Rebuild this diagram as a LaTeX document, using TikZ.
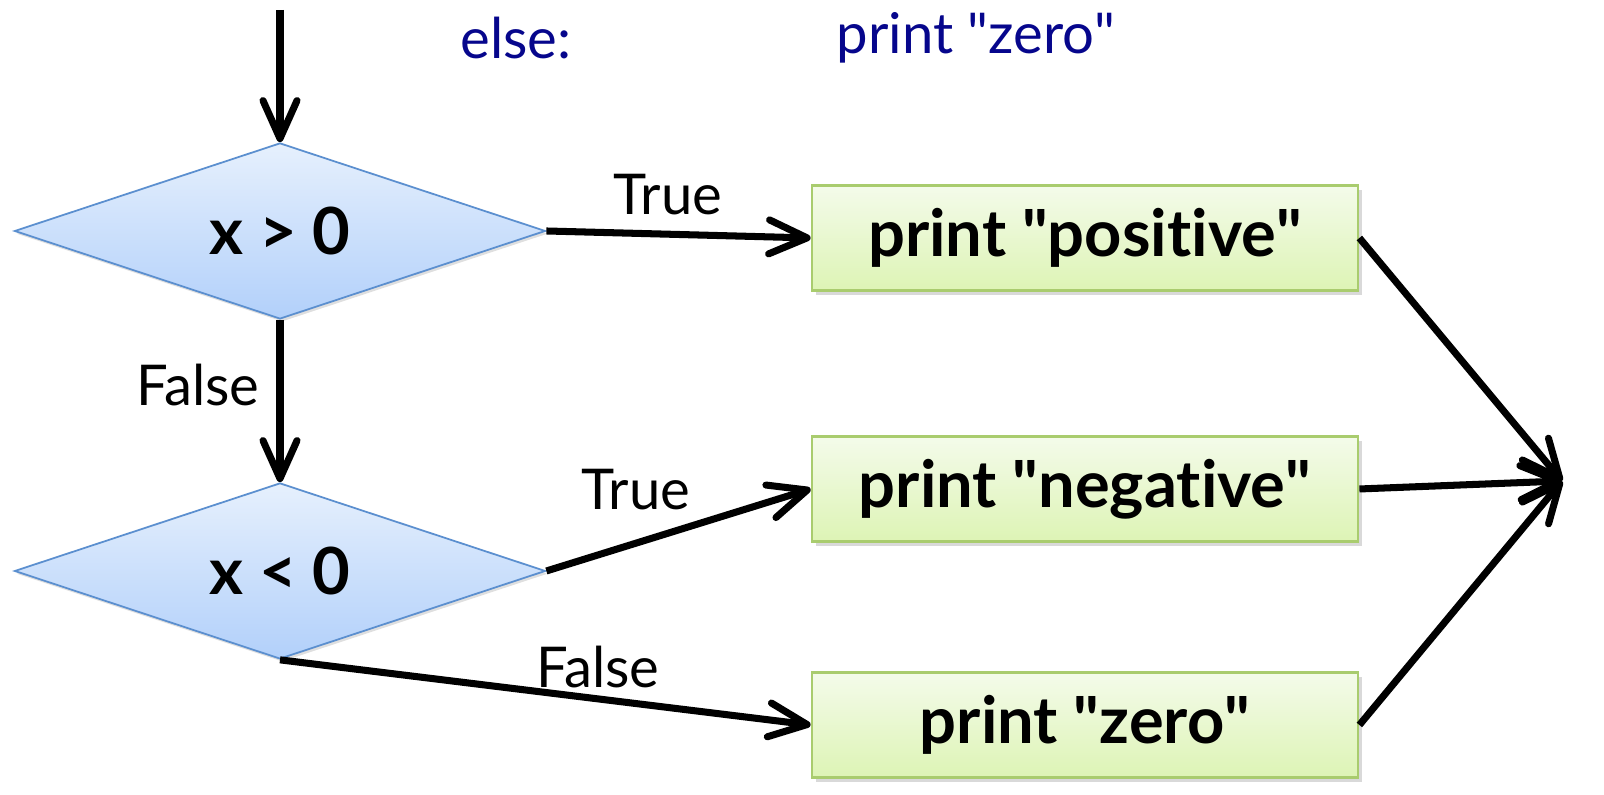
\documentclass[tikz,border=0pt]{standalone}
\usepackage{fontspec}
\setmainfont{Lato}[Ligatures={TeX,NoCommon}]
\usepackage{tikz}
\usetikzlibrary{arrows.meta}
\usetikzlibrary{positioning}
\usetikzlibrary{shapes.geometric}
\usetikzlibrary{shadows}
\definecolor{codeblue}{HTML}{06068C}
\definecolor{condline}{HTML}{5B8FCF}
\definecolor{condtop}{HTML}{E6F0FD}
\definecolor{condbot}{HTML}{B2D0FA}
\definecolor{actline}{HTML}{A9CC6E}
\definecolor{acttop}{HTML}{F4FBEA}
\definecolor{actbot}{HTML}{DDF4B5}
\tikzset{>={Straight Barb[length=3.8mm,width=3.4mm,round]}}
\tikzset{
  cond/.style={diamond, draw=condline, line width=0.5pt, aspect=3,
    minimum width=5.31cm, minimum height=1.76cm, inner sep=0pt,
    top color=condtop, bottom color=condbot,
    drop shadow={shadow xshift=0.6pt, shadow yshift=-0.8pt, opacity=0.25},
    font=\fontsize{18.5}{22}\selectfont\bfseries},
  act/.style={rectangle, draw=actline, line width=0.8pt,
    minimum width=5.46cm, minimum height=1.05cm, inner sep=0pt,
    top color=acttop, bottom color=actbot,
    drop shadow={shadow xshift=1pt, shadow yshift=-1.2pt, opacity=0.3},
    font=\fontsize{18.5}{22}\selectfont\bfseries},
  flow/.style={->, line width=2pt, black},
  branch/.style={font=\fontsize{16}{19}\selectfont},
  code/.style={text=codeblue, font=\fontsize{16}{19}\selectfont}
}
\begin{document}
\begin{tikzpicture}
    \useasboundingbox (0,0) rectangle (16.04,7.95);
    % code above the chart
    \node[code] (ElseKw) at (5.16,7.57) {else:};
    \node[code] (ElseBody) at (9.76,7.57) {print \textquotedbl zero\textquotedbl};
    % tests
    \node[cond] (Xpos) at (2.80,5.64) {x > 0};
    \node[cond] (Xneg) at (2.80,2.24) {x < 0};
    % actions
    \node[act] (Ppos) at (10.85,5.57) {print \textquotedbl positive\textquotedbl};
    \node[act] (Pneg) at (10.85,3.06) {print \textquotedbl negative\textquotedbl};
    \node[act] (Pzero) at (10.85,0.70) {print \textquotedbl zero\textquotedbl};
    \coordinate (Start) at (2.80,7.85);
    \coordinate (Merge) at (15.62,3.14);
    % connectors
    \draw[flow] (Start) -- (Xpos.north);
    \draw[flow] (Xpos.east) -- (Ppos.west);
    \draw[flow] (Xpos.south) -- (Xneg.north);
    \draw[flow] (Xneg.east) -- (Pneg.west);
    \draw[flow] (Xneg.south) -- (Pzero.west);
    \draw[flow] (Ppos.east) -- (Merge);
    \draw[flow] (Pneg.east) -- (Merge);
    \draw[flow] (Pzero.east) -- (Merge);
    % branch labels
    \node[branch] (PosTrue) at (6.68,6.00) {True};
    \node[branch] (PosFalse) at (1.98,4.10) {False};
    \node[branch] (NegTrue) at (6.36,3.05) {True};
    \node[branch] (NegFalse) at (5.98,1.28) {False};
\end{tikzpicture}
\end{document}
